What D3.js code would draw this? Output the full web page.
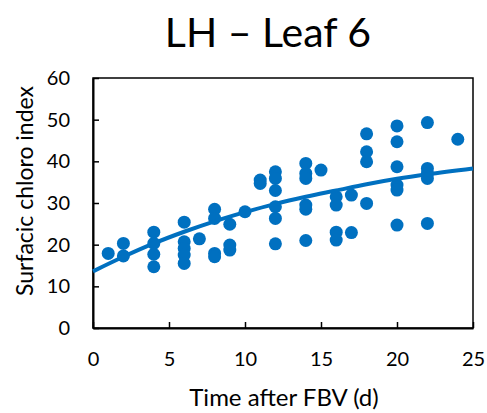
<!DOCTYPE html>
<html><head><meta charset="utf-8">
<script src="https://cdn.jsdelivr.net/npm/d3@7"></script>
<style>body{margin:0;background:#fff}svg{display:block}text{font-family:Lato,"Open Sans",sans-serif;fill:#000}</style>
</head><body><svg id="c" width="487" height="413"></svg>
<script>
const title = "LH – Leaf 6";
const xLabel = "Time after FBV (d)";
const yLabel = "Surfacic chloro index";
const xTicks = [0,5,10,15,20,25];
const yTicks = [0,10,20,30,40,50,60];
const pointX = [1,2,2,4,4,4,4,6,6,6,6,6,7,8,8,8,8,9,9,9,10,11,11,12,12,12,12,12,12,14,14,14,14,14,14,15,16,16,16,16,17,17,18,18,18,18,20,20,20,20,20,20,22,22,22,22,22,24];
const pointY = [17.9,20.3,17.3,23,20.3,17.7,14.7,25.4,20.7,19.1,17.5,15.5,21.4,28.5,26.3,17.9,17.1,24.9,19.9,18.7,27.9,35.5,34.7,37.5,35.9,33,29.1,26.3,20.2,39.5,37.1,35.9,29.5,28.5,21,37.9,31.5,29.5,23,21.1,31.9,22.9,46.6,42.3,39.9,29.9,48.5,44.7,38.7,34.3,33.1,24.7,49.3,38.3,37.1,35.9,25.1,45.3];
const fitX = [0,2,4,6,8,10,12,14,16,18,20,22,25];
const fitY = [13.6,17.1,20.3,23.1,25.6,27.8,29.8,31.5,33.0,34.5,35.8,36.9,38.3];

const svg = d3.select("#c");
const L=93,R=473,T=78,B=328;
const x = d3.scaleLinear().domain([0,25]).range([L,R]);
const y = d3.scaleLinear().domain([0,60]).range([B,T]);
const blue="#0070C0";

svg.append("text").attr("x",268).attr("y",47).attr("text-anchor","middle").attr("font-size",41).text(title);

// frame
svg.append("rect").attr("x",L).attr("y",T).attr("width",R-L).attr("height",B-T).attr("fill","none").attr("stroke","#000").attr("stroke-width",1.5);

const xa = svg.append("g").attr("transform",`translate(0,${B})`).call(d3.axisBottom(x).tickValues(xTicks).tickSizeInner(-6).tickSizeOuter(0).tickPadding(24).tickFormat(d3.format("d")));
const ya = svg.append("g").attr("transform",`translate(${L},0)`).call(d3.axisLeft(y).tickValues(yTicks).tickSizeInner(-6).tickSizeOuter(0).tickPadding(23).tickFormat(d3.format("d")));
[xa,ya].forEach(a=>{a.select(".domain").attr("stroke","#000").attr("stroke-width",2);
 a.selectAll(".tick line").attr("stroke","#000").attr("stroke-width",1.5);
 a.selectAll("text").attr("font-size",20).attr("font-family","Lato,'Open Sans',sans-serif").attr("fill","#000");});
xa.selectAll("text").attr("dy","0.71em");

svg.append("text").attr("x",284).attr("y",406).attr("text-anchor","middle").attr("font-size",24).text(xLabel);
svg.append("text").attr("transform","translate(33,191) rotate(-90)").attr("text-anchor","middle").attr("font-size",23).text(yLabel);

const pts = pointX.map((d,i)=>[d,pointY[i]]);
svg.append("g").selectAll("circle").data(pts).join("circle")
 .attr("cx",d=>x(d[0])).attr("cy",d=>y(d[1])).attr("r",6.5).attr("fill",blue);

svg.append("path").datum(fitX.map((d,i)=>[d,fitY[i]]))
 .attr("d",d3.line().x(d=>x(d[0])).y(d=>y(d[1])).curve(d3.curveMonotoneX))
 .attr("fill","none").attr("stroke",blue).attr("stroke-width",4);
</script></body></html>
